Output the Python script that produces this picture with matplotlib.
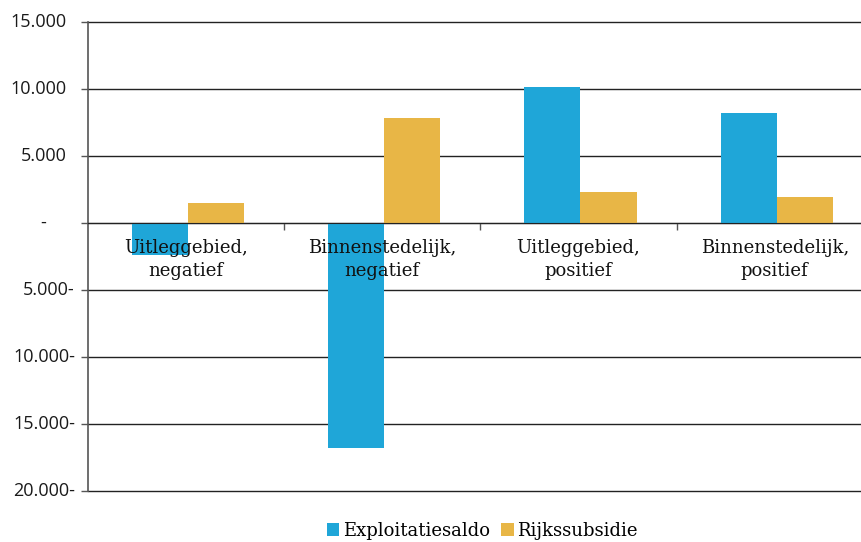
import matplotlib.pyplot as plt
import numpy as np

# Data
categories = ["Uitleggebied,\nnegatief", "Binnenstedelijk,\nnegatief",
              "Uitleggebied,\npositief", "Binnenstedelijk,\npositief"]
exploitatiesaldo = [-2400, -16800, 10150, 8200]
rijkssubsidie = [1500, 7850, 2300, 1950]
y_ticks = [15000, 10000, 5000, 0, -5000, -10000, -15000, -20000]
y_tick_labels = ["15.000", "10.000", "5.000", "-", "5.000-", "10.000-", "15.000-", "20.000-"]

blue = "#1fa6d8"
gold = "#e8b646"

fig = plt.figure(figsize=(8.61, 5.42), dpi=100)
ax = fig.add_axes([0.1022, 0.0941, 0.8978, 0.8653])

x = np.arange(len(categories))
w = 0.286
ax.bar(x - w / 2 + 0.01, exploitatiesaldo, width=w, color=blue, label="Exploitatiesaldo", zorder=2)
ax.bar(x + w / 2 + 0.01, rijkssubsidie, width=w, color=gold, label="Rijkssubsidie", zorder=2)

ax.set_xlim(-0.5, 3.44)
ax.set_ylim(-20000, 15000)

# gridlines
for t in y_ticks:
    ax.axhline(t, color="#222222", lw=1.0, zorder=1, clip_on=False)

# y tick labels in accounting style (trailing minus, padded positives)
ax.set_yticks(y_ticks)
ax.set_yticklabels([])
ax.tick_params(axis="y", length=5, width=1, color="#555555")
px = 1 / 773
for t, lab in zip(y_ticks, y_tick_labels):
    if t > 0:
        xr = -21 * px
    elif t == 0:
        xr = -42 * px
    else:
        xr = -13 * px
    ax.text(xr, t, lab, transform=ax.get_yaxis_transform(), ha="right", va="center",
            fontsize=13, family="Open Sans", color="#1a1a1a")

# x axis at zero with category separator ticks
ax.spines["bottom"].set_position(("data", 0))
ax.spines["bottom"].set_color("#222222")
ax.spines["bottom"].set_zorder(3)
ax.set_xticks([0.5, 1.5, 2.5])
ax.set_xticklabels([])
ax.tick_params(axis="x", length=5, width=1, color="#555555", direction="out")

ax.spines["top"].set_visible(False)
ax.spines["right"].set_visible(False)
ax.spines["left"].set_color("#555555")
ax.spines["left"].set_linewidth(1.2)

# category labels on top of bars
for xi, lab in zip(x, categories):
    ax.text(xi, -1200, lab, ha="center", va="top", fontsize=13,
            family="DejaVu Serif", color="#111111", linespacing=1.35, zorder=4)

ax.legend(loc="center", bbox_to_anchor=(0.51, -0.085), ncol=2, frameon=False,
          prop={"family": "DejaVu Serif", "size": 13}, handlelength=0.7,
          handleheight=0.7, handletextpad=0.2, columnspacing=0.6)

plt.savefig("out.png", dpi=100)
